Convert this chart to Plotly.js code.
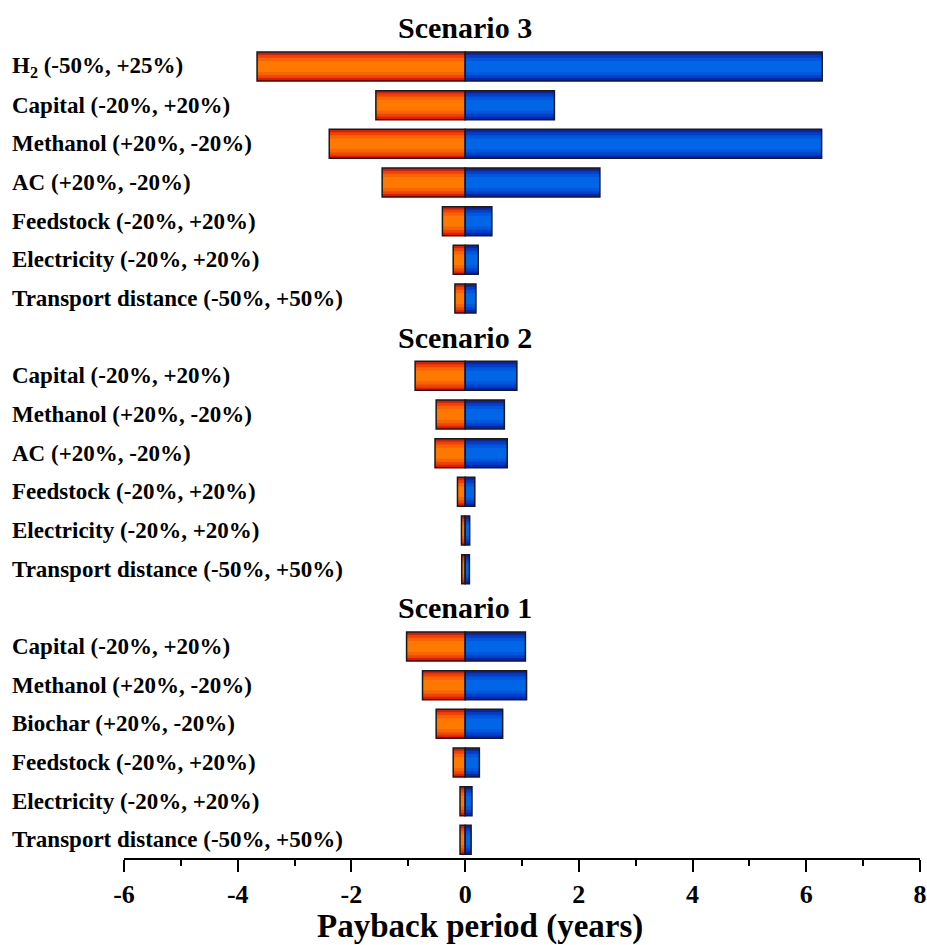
<!DOCTYPE html>
<html>
<head>
<meta charset="utf-8">
<script src="https://cdn.plot.ly/plotly-3.0.1.min.js"></script>
<style>html,body{margin:0;padding:0;background:#fff;}#chart{width:927px;height:945px;}</style>
</head>
<body>
<div id="chart"></div>
<script>
// ---- data ----
var scenarioNames = ['Scenario 3', 'Scenario 2', 'Scenario 1'];

var labels3 = ['H<sub>2</sub> (-50%, +25%)', 'Capital (-20%, +20%)', 'Methanol (+20%, -20%)', 'AC (+20%, -20%)',
               'Feedstock (-20%, +20%)', 'Electricity (-20%, +20%)', 'Transport distance (-50%, +50%)'];
var low3  = [-3.66, -1.57, -2.39, -1.46, -0.40, -0.21, -0.18];
var high3 = [6.28, 1.57, 6.27, 2.37, 0.47, 0.23, 0.19];

var labels2 = ['Capital (-20%, +20%)', 'Methanol (+20%, -20%)', 'AC (+20%, -20%)',
               'Feedstock (-20%, +20%)', 'Electricity (-20%, +20%)', 'Transport distance (-50%, +50%)'];
var low2  = [-0.88, -0.51, -0.53, -0.135, -0.065, -0.06];
var high2 = [0.91, 0.69, 0.74, 0.17, 0.08, 0.075];

var labels1 = ['Capital (-20%, +20%)', 'Methanol (+20%, -20%)', 'Biochar (+20%, -20%)',
               'Feedstock (-20%, +20%)', 'Electricity (-20%, +20%)', 'Transport distance (-50%, +50%)'];
var low1  = [-1.03, -0.75, -0.51, -0.21, -0.09, -0.09];
var high1 = [1.06, 1.08, 0.66, 0.25, 0.12, 0.105];

var xTickVals = [-6, -4, -2, 0, 2, 4, 6, 8];
var xTitle = 'Payback period (years)';

// ---- build rows ----
var groups = [[labels3, low3, high3], [labels2, low2, high2], [labels1, low1, high1]];
var slot = 0, ys = [], lows = [], highs = [], labs = [], titleSlots = [];
groups.forEach(function (g) {
  titleSlots.push(slot); slot++;
  for (var i = 0; i < g[0].length; i++) {
    ys.push(slot); labs.push(g[0][i]); lows.push(g[1][i]); highs.push(g[2][i]); slot++;
  }
});

var orangeLayers = ['#e01a00', '#ee4400', '#f86400', '#ff7800'];
var blueLayers   = ['#0824a8', '#0040c8', '#0056dc', '#0066e8'];
var widths = [0.75, 0.6, 0.45, 0.28];

var traces = [];
for (var k = 0; k < widths.length; k++) {
  traces.push({type: 'bar', orientation: 'h', x: lows, y: ys, width: widths[k],
    marker: {color: orangeLayers[k], line: {width: 0}}, hoverinfo: 'skip', showlegend: false});
  traces.push({type: 'bar', orientation: 'h', x: highs, y: ys, width: widths[k],
    marker: {color: blueLayers[k], line: {width: 0}}, hoverinfo: 'skip', showlegend: false});
}
[lows, highs].forEach(function (vals) {
  traces.push({type: 'bar', orientation: 'h', x: vals, y: ys, width: 0.75,
    marker: {color: 'rgba(0,0,0,0)', line: {width: 1.5, color: '#1a1a1a'}}, hoverinfo: 'skip', showlegend: false});
});

var serif = 'Liberation Serif';
var annotations = [];
labs.forEach(function (t, i) {
  annotations.push({xref: 'paper', yref: 'y', x: -0.1432, y: ys[i], xanchor: 'left', yanchor: 'middle',
    text: t, showarrow: false, font: {family: serif, size: 23, color: '#000', weight: 'bold'}});
});
scenarioNames.forEach(function (t, i) {
  annotations.push({xref: 'x', yref: 'y', x: 0, y: titleSlots[i], xanchor: 'center', yanchor: 'middle',
    text: t, showarrow: false, font: {family: serif, size: 30, color: '#000', weight: 'bold'}});
});
// x-axis title (centred as in the reference, slightly left of the plot centre)
annotations.push({xref: 'paper', yref: 'paper', x: 0.447, y: -0.0793, xanchor: 'center', yanchor: 'middle',
  text: xTitle, showarrow: false, font: {family: serif, size: 33, color: '#000', weight: 'bold'}});

var layout = {
  width: 927, height: 945,
  margin: {l: 124, r: 7, t: 0, b: 87},
  paper_bgcolor: '#fff', plot_bgcolor: '#fff',
  barmode: 'overlay',
  xaxis: {
    range: [-6, 8], autorange: false,
    tickvals: xTickVals, ticktext: xTickVals.map(String),
    ticks: 'outside', ticklen: 12, tickwidth: 2, tickcolor: '#000',
    minor: {dtick: 1, tick0: 0, ticks: 'outside', ticklen: 6, tickwidth: 2, tickcolor: '#000'},
    showline: true, linewidth: 2, linecolor: '#000',
    showgrid: false, zeroline: false,
    tickfont: {family: serif, size: 26, color: '#000', weight: 'bold'}
  },
  yaxis: {
    range: [21.47, -0.72], autorange: false,
    showticklabels: false, ticks: '', showgrid: false, zeroline: false, showline: false
  },
  annotations: annotations
};

Plotly.newPlot('chart', traces, layout, {displayModeBar: false, staticPlot: true});
</script>
</body>
</html>
